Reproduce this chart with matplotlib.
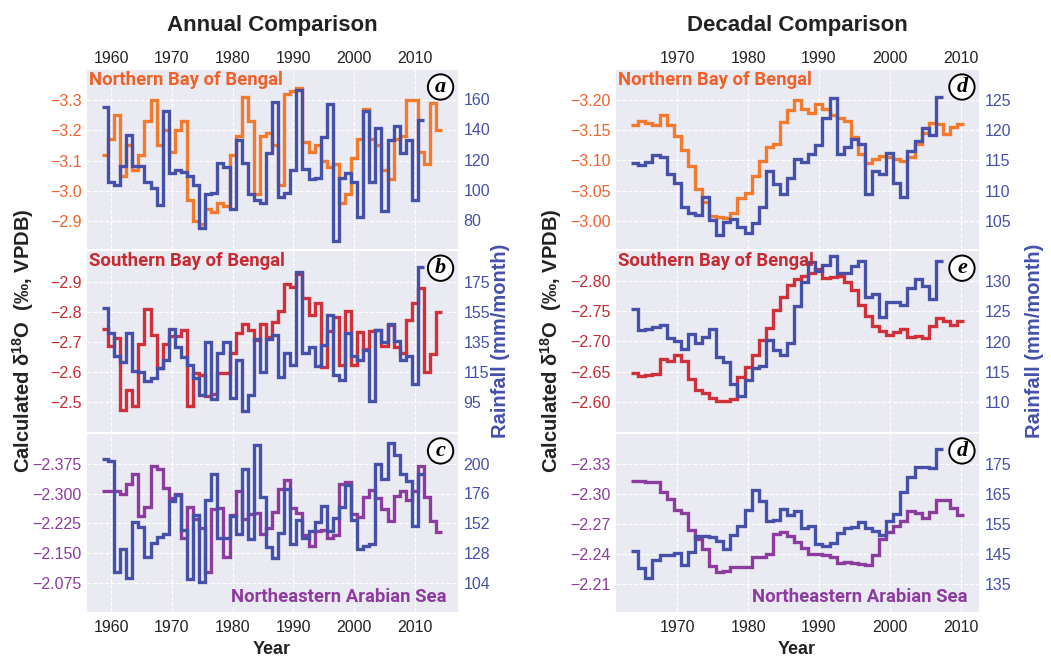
import numpy as np
import matplotlib.pyplot as plt
from matplotlib.ticker import FixedLocator, FuncFormatter

plt.rcParams['font.family'] = ['Liberation Sans', 'DejaVu Sans']
plt.rcParams['mathtext.fontset'] = 'custom'
plt.rcParams['mathtext.rm'] = 'Liberation Sans:bold'
plt.rcParams['mathtext.default'] = 'rm'

# ---- annual series -------------------------------------------------------
years_ann_iso = np.arange(1959, 2015)
years_ann_rain = np.arange(1959, 2012)

nbob_d18o_ann = [-3.12, -3.17, -3.25, -3.05, -3.15, -3.07, -3.12, -3.23, -3.30, -3.15,
                 -3.20, -3.13, -3.20, -3.23, -2.97, -2.90, -2.89, -2.94, -2.93, -2.96,
                 -2.95, -3.12, -3.18, -3.31, -3.23, -2.99, -3.18, -3.19, -3.15, -3.02,
                 -3.32, -3.33, -3.34, -3.16, -3.13, -3.15, -3.10, -3.08, -3.09, -2.96,
                 -2.99, -3.11, -3.17, -3.27, -3.17, -3.15, -3.07, -3.04, -3.17, -3.18,
                 -3.30, -3.30, -3.13, -3.09, -3.29, -3.20]
nbob_rain_ann = [155, 105, 103, 116, 136, 116, 116, 105, 101, 90,
                 152, 111, 113, 112, 109, 103, 75, 97, 98, 118,
                 115, 87, 133, 118, 97, 93, 91, 124, 158, 95,
                 98, 113, 166, 114, 107, 108, 135, 157, 66, 108,
                 111, 105, 82, 152, 105, 141, 86, 133, 142, 124,
                 133, 93, 146]

sbob_d18o_ann = [-2.745, -2.687, -2.714, -2.475, -2.540, -2.488, -2.693, -2.810, -2.725, -2.613,
                 -2.693, -2.720, -2.720, -2.742, -2.488, -2.596, -2.590, -2.520, -2.527, -2.596,
                 -2.596, -2.665, -2.730, -2.762, -2.742, -2.709, -2.762, -2.718, -2.767, -2.804,
                 -2.895, -2.886, -2.928, -2.848, -2.790, -2.830, -2.618, -2.738, -2.786, -2.624,
                 -2.804, -2.624, -2.734, -2.676, -2.738, -2.742, -2.687, -2.756, -2.685, -2.665,
                 -2.773, -2.830, -2.880, -2.600, -2.660, -2.800]
sbob_rain_ann = [158, 141, 126, 122, 141, 116, 115, 109, 111, 118,
                 123, 144, 132, 125, 120, 111, 100, 135, 97, 128,
                 135, 98, 123, 89, 100, 137, 115, 137, 140, 112,
                 128, 120, 182, 128, 132, 119, 133, 153, 113, 110,
                 141, 126, 123, 130, 96, 143, 135, 147, 136, 123,
                 126, 107, 185]

neas_d18o_ann = [-2.307, -2.307, -2.307, -2.299, -2.325, -2.350, -2.243, -2.267, -2.369, -2.361,
                 -2.315, -2.290, -2.300, -2.189, -2.267, -2.237, -2.214, -2.102, -2.261, -2.264,
                 -2.141, -2.245, -2.307, -2.237, -2.249, -2.251, -2.199, -2.214, -2.253, -2.311,
                 -2.334, -2.264, -2.251, -2.195, -2.168, -2.206, -2.208, -2.187, -2.195, -2.325,
                 -2.328, -2.249, -2.241, -2.292, -2.309, -2.290, -2.261, -2.232, -2.295, -2.307,
                 -2.284, -2.307, -2.369, -2.292, -2.230, -2.203]
neas_rain_ann = [204, 202, 113, 131, 108, 153, 149, 125, 136, 141,
                 143, 170, 175, 147, 107, 159, 105, 171, 192, 140,
                 140, 158, 143, 196, 139, 215, 173, 133, 124, 144,
                 180, 135, 155, 140, 146, 153, 166, 146, 156, 165,
                 183, 155, 131, 134, 135, 200, 188, 217, 207, 192,
                 186, 150, 192]

# ---- decadal series ------------------------------------------------------
years_dec_iso = np.arange(1964, 2011)
years_dec_rain = np.arange(1964, 2008)

nbob_d18o_dec = [-3.159, -3.166, -3.162, -3.159, -3.175, -3.159, -3.140, -3.118, -3.090, -3.052,
                 -3.031, -3.008, -3.006, -3.004, -3.012, -3.037, -3.046, -3.074, -3.099, -3.122,
                 -3.127, -3.164, -3.183, -3.201, -3.186, -3.178, -3.193, -3.186, -3.175, -3.171,
                 -3.166, -3.139, -3.110, -3.095, -3.103, -3.107, -3.106, -3.103, -3.099, -3.106,
                 -3.127, -3.145, -3.162, -3.160, -3.144, -3.155, -3.160]
nbob_rain_dec = [114.5, 114.2, 114.8, 115.9, 115.5, 112.7, 111.3, 107.2, 106.3, 105.9,
                 108.9, 105.1, 102.6, 104.8, 105.2, 104.0, 103.0, 104.6, 107.3, 113.3,
                 111.1, 109.4, 112.0, 115.2, 114.8, 116.0, 117.5, 122.0, 125.3, 116.0,
                 117.3, 118.5, 117.8, 109.5, 113.3, 112.8, 116.2, 111.3, 108.9, 116.6,
                 118.3, 120.3, 119.2, 125.6]

sbob_d18o_dec = [-2.648, -2.643, -2.645, -2.646, -2.671, -2.667, -2.678, -2.667, -2.638, -2.619,
                 -2.615, -2.607, -2.601, -2.602, -2.605, -2.641, -2.658, -2.678, -2.703, -2.723,
                 -2.753, -2.774, -2.794, -2.804, -2.809, -2.814, -2.820, -2.806, -2.807, -2.808,
                 -2.798, -2.786, -2.761, -2.742, -2.725, -2.717, -2.710, -2.716, -2.720, -2.708,
                 -2.709, -2.706, -2.725, -2.739, -2.734, -2.727, -2.734]
sbob_rain_dec = [125.4, 121.9, 122.1, 122.4, 122.8, 120.6, 120.1, 118.7, 121.2, 119.7,
                 120.8, 122.0, 117.5, 116.6, 112.9, 110.9, 113.7, 115.6, 116.0, 120.2,
                 118.6, 117.8, 119.8, 125.9, 129.8, 133.1, 131.7, 132.6, 134.1, 131.4,
                 131.4, 132.5, 133.3, 127.4, 127.8, 124.1, 126.5, 126.5, 126.0, 128.9,
                 130.4, 129.2, 127.1, 133.3]

neas_d18o_dec = [-2.313, -2.313, -2.312, -2.312, -2.302, -2.295, -2.284, -2.281, -2.264, -2.255,
                 -2.245, -2.228, -2.222, -2.223, -2.227, -2.227, -2.227, -2.237, -2.237, -2.240,
                 -2.260, -2.262, -2.258, -2.252, -2.246, -2.240, -2.240, -2.239, -2.237, -2.231,
                 -2.232, -2.231, -2.230, -2.229, -2.239, -2.255, -2.262, -2.268, -2.273, -2.283,
                 -2.281, -2.276, -2.282, -2.294, -2.294, -2.286, -2.279]
neas_rain_dec = [146.0, 140.2, 136.9, 143.0, 144.6, 144.6, 145.4, 141.3, 145.7, 150.9,
                 150.9, 150.5, 149.4, 146.5, 151.2, 154.2, 159.8, 166.4, 162.6, 156.0,
                 156.4, 160.1, 157.9, 159.3, 153.5, 154.2, 148.3, 147.6, 148.7, 151.8,
                 153.5, 153.8, 155.7, 153.5, 152.7, 151.2, 156.0, 158.2, 165.6, 170.6,
                 173.9, 174.1, 173.7, 180.0]

region_names = ['Northern Bay of Bengal', 'Southern Bay of Bengal', 'Northeastern Arabian Sea']
panel_letters = [['a', 'b', 'c'], ['d', 'e', 'd']]

iso_ticks = [
    [[-3.3, -3.2, -3.1, -3.0, -2.9], [-2.9, -2.8, -2.7, -2.6, -2.5],
     [-2.375, -2.300, -2.225, -2.150, -2.075]],
    [[-3.20, -3.15, -3.10, -3.05, -3.00], [-2.80, -2.75, -2.70, -2.65, -2.60],
     [-2.33, -2.30, -2.27, -2.24, -2.21]],
]
iso_decimals = [[1, 1, 3], [2, 2, 2]]
rain_ticks = [
    [[80, 100, 120, 140, 160], [95, 115, 135, 155, 175], [104, 128, 152, 176, 200]],
    [[105, 110, 115, 120, 125], [110, 115, 120, 125, 130], [135, 145, 155, 165, 175]],
]
year_ticks = [[1960, 1970, 1980, 1990, 2000, 2010], [1970, 1980, 1990, 2000, 2010]]

# ---- styling -------------------------------------------------------------
BG = '#EAEAF2'
BLUE = '#4551A9'
LINE_COLORS = ['#F37A2C', '#D0303A', '#8C3C9E']
TEXT_COLORS = ['#F0612A', '#C62A32', '#8C3C9E']
DARK = '#222222'

# axis ranges (delta axis is inverted)
iso_lims = [[(-2.807, -3.400), (-2.400, -3.005), (-2.002, -2.450)],
            [(-2.953, -3.250), (-2.550, -2.850), (-2.1815, -2.3604)]]
rain_lims = [[(60.8, 179.2), (75.3, 196.0), (80.6, 223.9)],
             [(100.3, 130.0), (105.0, 135.0), (125.5, 185.1)]]
x_lims = [(1956.05, 2017.1), (1961.35, 2012.6)]

iso_data = [[(years_ann_iso, nbob_d18o_ann), (years_ann_iso, sbob_d18o_ann), (years_ann_iso, neas_d18o_ann)],
            [(years_dec_iso, nbob_d18o_dec), (years_dec_iso, sbob_d18o_dec), (years_dec_iso, neas_d18o_dec)]]
rain_data = [[(years_ann_rain, nbob_rain_ann), (years_ann_rain, sbob_rain_ann), (years_ann_rain, neas_rain_ann)],
             [(years_dec_rain, nbob_rain_dec), (years_dec_rain, sbob_rain_dec), (years_dec_rain, neas_rain_dec)]]


def minus_fmt(decimals):
    return FuncFormatter(lambda v, _: f'{v:.{decimals}f}'.replace('-', '\u2212'))


def edges(years):
    return np.append(years - 0.5, years[-1] + 0.5)


W, H = 1051, 657
fig = plt.figure(figsize=(W / 100, H / 100), dpi=100)

col_x = [87, 616]
col_w = [371, 363]
row_top = [70, 251, 434]
row_h = [179, 181, 178]

for c in range(2):
    for r in range(3):
        rect = [col_x[c] / W, 1 - (row_top[r] + row_h[r]) / H, col_w[c] / W, row_h[r] / H]
        ax = fig.add_axes(rect)
        ax.set_facecolor(BG)
        ax2 = ax.twinx()
        for a in (ax, ax2):
            for s in a.spines.values():
                s.set_visible(False)

        yrs, vals = iso_data[c][r]
        ax.stairs(vals, edges(yrs), baseline=None, color=LINE_COLORS[r], lw=2.4)
        yrs, vals = rain_data[c][r]
        ax2.stairs(vals, edges(yrs), baseline=None, color=BLUE, lw=2.4)

        ax.set_xlim(*x_lims[c])
        ax.set_ylim(*iso_lims[c][r])
        ax2.set_ylim(*rain_lims[c][r])

        ax.xaxis.set_major_locator(FixedLocator(year_ticks[c]))
        ax.yaxis.set_major_locator(FixedLocator(iso_ticks[c][r]))
        ax.yaxis.set_major_formatter(minus_fmt(iso_decimals[c][r]))
        ax2.yaxis.set_major_locator(FixedLocator(rain_ticks[c][r]))

        ax.grid(True, color='white', linestyle='--', linewidth=0.8)
        ax.set_axisbelow(True)

        ax.tick_params(axis='y', length=0, pad=4, labelsize=11.5, labelcolor=TEXT_COLORS[r])
        ax2.tick_params(axis='y', length=0, pad=4, labelsize=11.5, labelcolor=BLUE)
        ax.tick_params(axis='x', length=0, labelsize=11.5, labelcolor=DARK,
                       labeltop=(r == 0), labelbottom=(r == 2),
                       pad=(3 if r == 0 else 6))

        # region name
        if r < 2:
            ax2.text(0.006, 0.945, region_names[r], transform=ax.transAxes,
                     ha='left', va='center', fontsize=13.3, fontweight='bold',
                     family=['Roboto', 'DejaVu Sans'], color=TEXT_COLORS[r])
        else:
            ax2.text(0.968, 0.085, region_names[r], transform=ax.transAxes,
                     ha='right', va='center', fontsize=13.3, fontweight='bold',
                     family=['Roboto', 'DejaVu Sans'], color=TEXT_COLORS[r])

        # circled panel letter
        ax2.text(0.953, 0.905, panel_letters[c][r], transform=ax.transAxes,
                 ha='center', va='center', fontsize=16, fontweight='bold',
                 fontstyle='italic', family=['Liberation Serif', 'DejaVu Serif'],
                 color='black', zorder=5,
                 bbox=dict(boxstyle='circle,pad=0.12', fc='white', ec='black', lw=1.4))

# column titles and shared labels
for cx, title in zip([272, 797], ['Annual Comparison', 'Decadal Comparison']):
    fig.text(cx / W, 1 - 25 / H, title, ha='center', va='center',
             fontsize=16, fontweight='bold', color=DARK)
    fig.text(cx / W, 1 - 649 / H, 'Year', ha='center', va='center',
             fontsize=13, fontweight='bold', color=DARK)

for lx in [23, 551]:
    fig.text(lx / W, 1 - 341 / H, 'Calculated \u03b4$^{18}$O  (\u2030, VPDB)',
             rotation=90, ha='center', va='center', fontsize=14.5,
             fontweight='bold', color=DARK)
for rx in [501, 1034]:
    fig.text(rx / W, 1 - 341 / H, 'Rainfall (mm/month)', rotation=90,
             ha='center', va='center', fontsize=14.5, fontweight='bold', color=BLUE)

fig.savefig('out.png', dpi=100, facecolor='white')
